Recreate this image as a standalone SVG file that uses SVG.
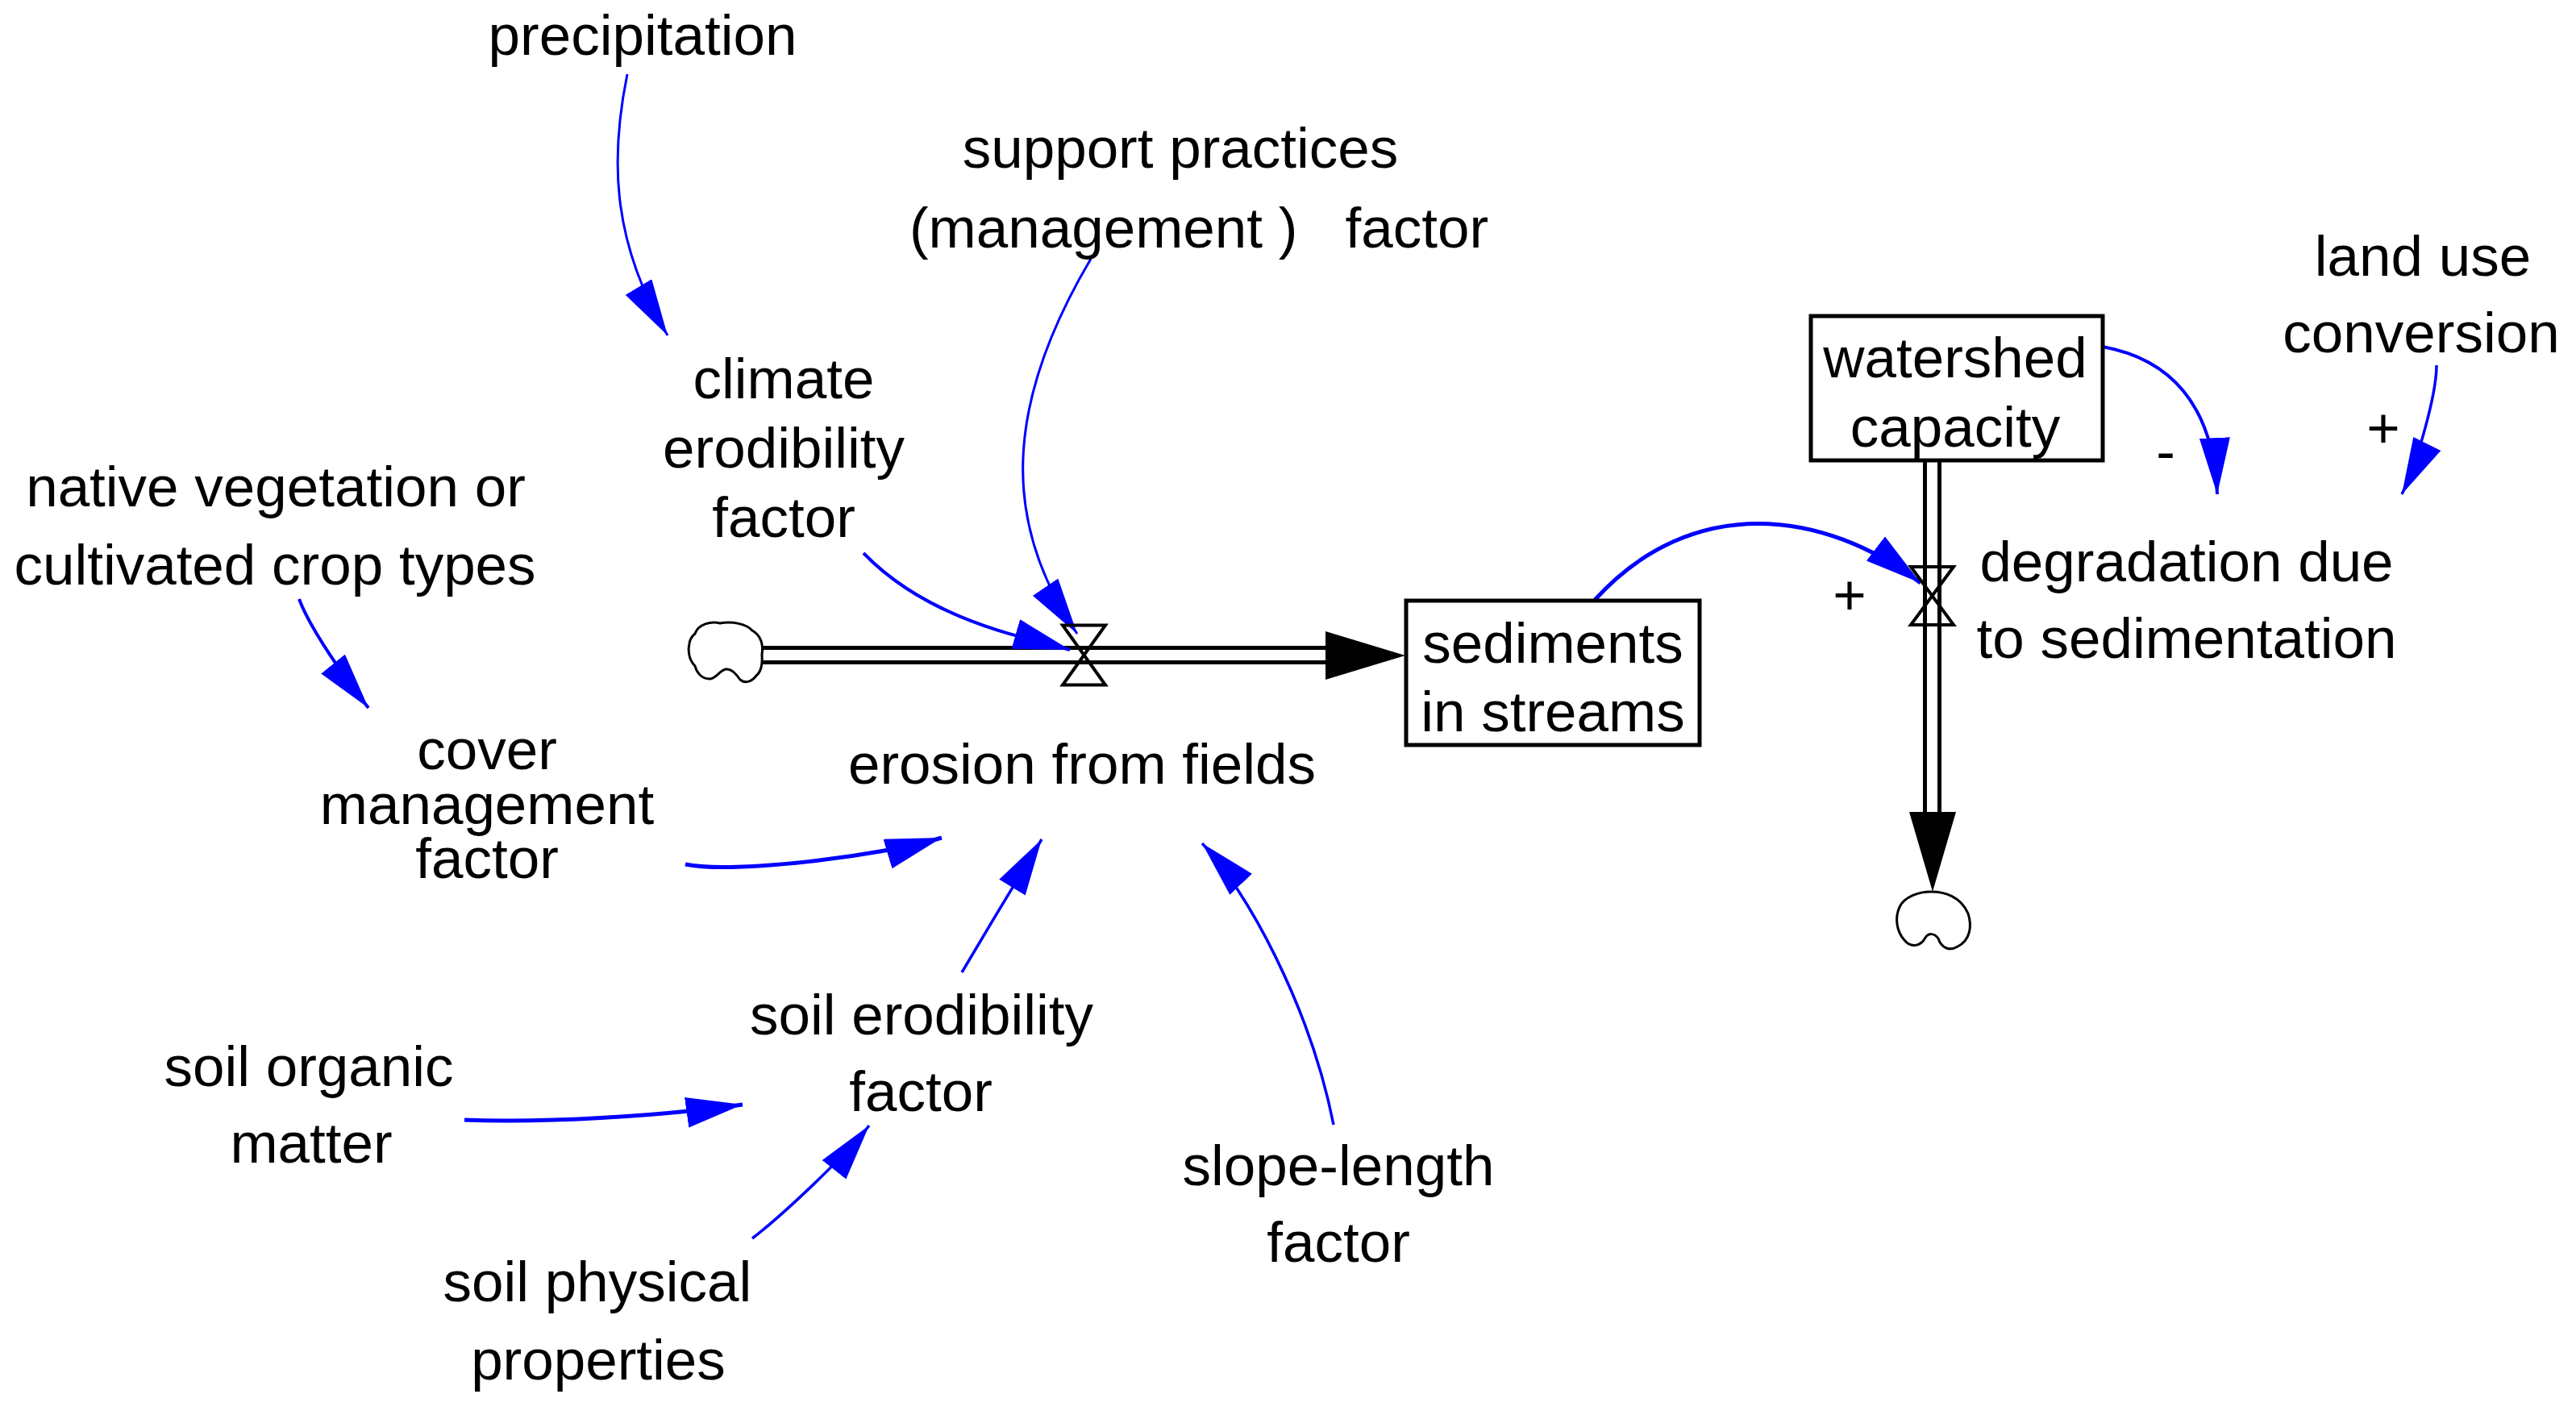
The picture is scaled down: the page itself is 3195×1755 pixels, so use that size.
<svg xmlns="http://www.w3.org/2000/svg" width="3195" height="1755" viewBox="0 0 3195 1755">
  <defs>
    <marker id="ah" markerUnits="userSpaceOnUse" markerWidth="72" markerHeight="40" refX="70" refY="19" orient="auto">
      <path d="M0,0 L70,19 L0,38 Z" fill="#0000FF"/>
    </marker>
    <style>
      .t { font-family: "Liberation Sans", Arial, sans-serif; font-size: 71px; fill: #000; text-anchor: middle; }
      .pre { white-space: pre; }
      .link { fill: none; stroke: #0000FF; marker-end: url(#ah); }
      .pipe { stroke: #000; stroke-width: 5; fill: none; }
      .valve { stroke: #000; stroke-width: 4; fill: none; stroke-linejoin: miter; }
      .box { fill: #fff; stroke: #000; stroke-width: 5; }
      .cloud { fill: #fff; stroke: #000; stroke-width: 3; }
      .head { fill: #000; }
    </style>
  </defs>
  <rect x="0" y="0" width="3195" height="1755" fill="#fff"/>

  <!-- flows / pipes -->
  <g id="flow-erosion-pipe">
    <path class="cloud" d="M 862,786 C 866,774 882,770 893,773 C 908,770 926,774 933,782 C 944,788 947,800 945,812 C 946,826 943,834 938,838 C 932,846 924,848 918,843 C 912,834 906,829 900,830 C 892,832 888,842 880,842 C 870,842 864,834 862,826 C 854,818 853,806 855,798 C 856,792 858,789 862,786 Z"/>
    <line class="pipe" x1="945" y1="803.5" x2="1646" y2="803.5"/>
    <line class="pipe" x1="945" y1="821.5" x2="1646" y2="821.5"/>
    <polygon class="head" points="1644,783 1644,843 1743,813"/>
  </g>
  <g id="flow-degradation-pipe">
    <line class="pipe" x1="2387.5" y1="572" x2="2387.5" y2="1009"/>
    <line class="pipe" x1="2405.5" y1="572" x2="2405.5" y2="1009"/>
    <polygon class="head" points="2368,1007 2426,1007 2397,1106"/>
    <path class="cloud" d="M 2356,1125 C 2362,1112 2380,1106 2395,1106 C 2412,1106 2432,1112 2441,1133 C 2446,1148 2444,1166 2428,1174 C 2418,1180 2408,1176 2404,1164 C 2399,1157 2392,1157 2388,1163 C 2382,1174 2370,1176 2362,1166 C 2352,1155 2350,1138 2356,1125 Z"/>
  </g>

  <!-- connectors -->
  <g id="connectors">
    <path class="link" stroke-width="3" d="M 778,92 C 758,190 756,296 828,416"/>
    <path class="link" stroke-width="3" d="M 1353,321 C 1241,510 1246,654 1336,786"/>
    <path class="link" stroke-width="4" d="M 1071,686 C 1154,772 1279,792 1327,806"/>
    <path class="link" stroke-width="4" d="M 371,743 C 385,781 432,847 457,878"/>
    <path class="link" stroke-width="5" d="M 850,1072 C 910,1084 1091,1062 1168,1039"/>
    <path class="link" stroke-width="3.5" d="M 1193,1206 C 1225,1152 1262,1090 1292,1041"/>
    <path class="link" stroke-width="3.5" d="M 1654,1395 C 1625,1248 1546,1104 1491,1046"/>
    <path class="link" stroke-width="5" d="M 576,1389 C 676,1393 822,1384 921,1370"/>
    <path class="link" stroke-width="3.5" d="M 933,1536 C 972,1506 1047,1435 1078,1396"/>
    <path class="link" stroke-width="5" d="M 1978,744 C 2099,611 2263,632 2382,723"/>
    <path class="link" stroke-width="4" d="M 2608,430 C 2690,445 2745,500 2750,613"/>
    <path class="link" stroke-width="3.5" d="M 3022,453 C 3022,490 2997,577 2979,613"/>
  </g>

  <!-- nodes -->
  <g id="precipitation">
    <text class="t" x="797" y="68">precipitation</text>
  </g>
  <g id="support-practices-factor">
    <text class="t" x="1464" y="208">support practices</text>
    <text class="t pre" x="1487" y="307" xml:space="preserve">(management )   factor</text>
  </g>
  <g id="climate-erodibility-factor">
    <text class="t" x="972" y="494">climate</text>
    <text class="t" x="972" y="580">erodibility</text>
    <text class="t" x="972" y="666">factor</text>
  </g>
  <g id="native-vegetation">
    <text class="t" x="342" y="628">native vegetation or</text>
    <text class="t" x="341" y="725">cultivated crop types</text>
  </g>
  <g id="cover-management-factor">
    <text class="t" x="604" y="954">cover</text>
    <text class="t" x="604" y="1022">management</text>
    <text class="t" x="604" y="1089">factor</text>
  </g>
  <g id="erosion-from-fields">
    <path class="valve" d="M1318,775.5 H1371 L1318,849.5 H1371 Z"/>
    <text class="t" x="1342" y="972">erosion from fields</text>
  </g>
  <g id="sediments-in-streams">
    <rect class="box" x="1744" y="745" width="364" height="179"/>
    <text class="t" x="1926" y="822">sediments</text>
    <text class="t" x="1926" y="907">in streams</text>
  </g>
  <g id="watershed-capacity">
    <rect class="box" x="2246" y="392" width="362" height="179"/>
    <text class="t" x="2425" y="468">watershed</text>
    <text class="t" x="2425" y="554">capacity</text>
  </g>
  <g id="degradation-due-to-sedimentation">
    <path class="valve" d="M2370,703 H2423 L2370,775 H2423 Z"/>
    <text class="t" x="2712" y="721">degradation due</text>
    <text class="t" x="2712" y="816">to sedimentation</text>
  </g>
  <g id="land-use-conversion">
    <text class="t" x="3005" y="342">land use</text>
    <text class="t" x="3003" y="437">conversion</text>
  </g>
  <g id="soil-erodibility-factor">
    <text class="t" x="1143" y="1283">soil erodibility</text>
    <text class="t" x="1142" y="1378">factor</text>
  </g>
  <g id="soil-organic-matter">
    <text class="t" x="383" y="1347">soil organic</text>
    <text class="t" x="386" y="1442">matter</text>
  </g>
  <g id="soil-physical-properties">
    <text class="t" x="741" y="1614">soil physical</text>
    <text class="t" x="742" y="1711">properties</text>
  </g>
  <g id="slope-length-factor">
    <text class="t" x="1660" y="1470">slope-length</text>
    <text class="t" x="1660" y="1565">factor</text>
  </g>

  <!-- polarity signs -->
  <g id="polarities">
    <text class="t" x="2294" y="762">+</text>
    <text class="t" x="2686" y="584">-</text>
    <text class="t" x="2956" y="555">+</text>
  </g>
</svg>
